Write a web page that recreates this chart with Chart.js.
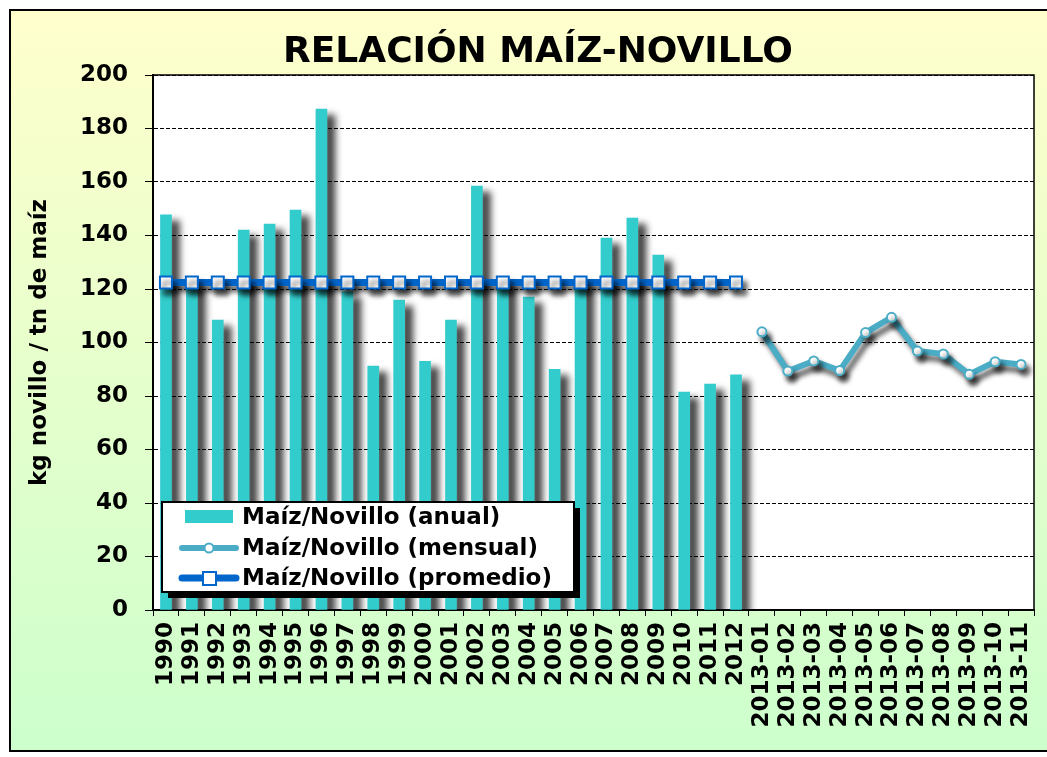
<!DOCTYPE html>
<html>
<head>
<meta charset="utf-8">
<script src="https://cdn.jsdelivr.net/npm/chart.js@4/dist/chart.umd.min.js"></script>
<style>
  html, body { margin: 0; padding: 0; background: #fff; }
  #wrap { width: 1047px; height: 757px; position: relative; }
</style>
</head>
<body>
<div id="wrap"><canvas id="chart" width="1047" height="757"></canvas></div>
<script>
// yearly ratio, monthly 2013 ratio and long-run average
const years = ['1990', '1991', '1992', '1993', '1994', '1995', '1996', '1997', '1998', '1999', '2000',
    '2001', '2002', '2003', '2004', '2005', '2006', '2007', '2008', '2009', '2010', '2011', '2012'];
const months = ['2013-01', '2013-02', '2013-03', '2013-04', '2013-05', '2013-06',
    '2013-07', '2013-08', '2013-09', '2013-10', '2013-11'];
const anual = [147.7, 123, 108.4, 142, 144.3, 149.5, 187.3, 119, 91.2, 115.9, 93,
    108.4, 158.5, 123.5, 117, 90, 123, 139, 146.5, 132.7, 81.5, 84.5, 87.9];
const mensual = [104, 89.3, 93.1, 89.5, 103.7, 109.4, 96.8, 95.7, 88.1, 92.8, 91.8];
const promedio = [122.4, 122.4, 122.4, 122.4, 122.4, 122.4, 122.4, 122.4, 122.4, 122.4, 122.4,
    122.4, 122.4, 122.4, 122.4, 122.4, 122.4, 122.4, 122.4, 122.4, 122.4, 122.4, 122.4];
const yTicks = [0, 20, 40, 60, 80, 100, 120, 140, 160, 180, 200];

const labels = years.concat(months);
const noYears = years.map(() => null);
const noMonths = months.map(() => null);

const CYAN = '#33CCCC';
const AQUA = '#4BACC6';
const BLUE = '#0066CC';
const FONT = 'DejaVu Sans';
const boldFont = { family: FONT, weight: 'bold', size: 23 };

// gradient frame + white plot area behind everything
const framePlugin = {
    id: 'frame',
    beforeDraw(chart) {
        const {ctx, chartArea: a} = chart;
        ctx.save();
        ctx.fillStyle = '#fff';
        ctx.fillRect(0, 0, chart.width, chart.height);
        const g = ctx.createLinearGradient(0, 10, 0, 751);
        g.addColorStop(0, '#FFFFCC');
        g.addColorStop(1, '#CCFFCC');
        ctx.fillStyle = g;
        ctx.fillRect(10, 10, chart.width - 10, 741);
        ctx.strokeStyle = '#000';
        ctx.lineWidth = 2;
        ctx.beginPath();
        ctx.moveTo(chart.width + 2, 10);
        ctx.lineTo(10, 10);
        ctx.lineTo(10, 751);
        ctx.lineTo(chart.width + 2, 751);
        ctx.stroke();
        ctx.fillStyle = '#fff';
        ctx.fillRect(a.left, a.top, a.right - a.left, a.bottom - a.top);

        ctx.fillStyle = '#000';
        ctx.font = 'bold 36px ' + FONT;
        ctx.textAlign = 'center';
        ctx.textBaseline = 'alphabetic';
        ctx.fillText('RELACIÓN MAÍZ-NOVILLO', 538, 62);
        ctx.restore();
    },
    afterDraw(chart) {
        const {ctx, chartArea: a} = chart;
        ctx.save();
        ctx.strokeStyle = '#000';
        ctx.lineWidth = 1.5;
        ctx.beginPath();
        ctx.moveTo(a.left, a.top);
        ctx.lineTo(a.right, a.top);
        ctx.lineTo(a.right, a.bottom);
        ctx.stroke();

        // legend box
        const lx = a.left + 9, ly = a.bottom - 108, lw = 412, lh = 90;
        ctx.fillStyle = '#000';
        ctx.fillRect(lx + 6, ly + 6, lw, lh);
        ctx.fillStyle = '#fff';
        ctx.fillRect(lx, ly, lw, lh);
        ctx.lineWidth = 2;
        ctx.strokeRect(lx, ly, lw, lh);

        const sx = lx + 20, tx = lx + 80;
        const rows = [ly + 15, ly + 46, ly + 76];
        ctx.font = 'bold 23px ' + FONT;
        ctx.textAlign = 'left';
        ctx.textBaseline = 'middle';
        ctx.fillStyle = '#000';
        ctx.fillText('Maíz/Novillo (anual)', tx, rows[0] + 1);
        ctx.fillText('Maíz/Novillo (mensual)', tx, rows[1] + 1);
        ctx.fillText('Maíz/Novillo (promedio)', tx, rows[2] + 1);

        ctx.fillStyle = CYAN;
        ctx.fillRect(sx + 3, rows[0] - 7, 48, 13);

        ctx.lineCap = 'round';
        ctx.strokeStyle = AQUA;
        ctx.lineWidth = 6;
        ctx.beginPath();
        ctx.moveTo(sx, rows[1]);
        ctx.lineTo(sx + 54, rows[1]);
        ctx.stroke();
        ctx.fillStyle = '#fff';
        ctx.lineWidth = 2;
        ctx.beginPath();
        ctx.arc(sx + 27, rows[1], 4.5, 0, Math.PI * 2);
        ctx.fill();
        ctx.stroke();

        ctx.strokeStyle = BLUE;
        ctx.lineWidth = 7;
        ctx.beginPath();
        ctx.moveTo(sx, rows[2]);
        ctx.lineTo(sx + 54, rows[2]);
        ctx.stroke();
        ctx.lineWidth = 2;
        ctx.fillRect(sx + 21, rows[2] - 6, 13, 13);
        ctx.strokeRect(sx + 21, rows[2] - 6, 13, 13);
        ctx.restore();
    }
};

// soft drop shadow on every dataset
const shadowPlugin = {
    id: 'shadow',
    beforeDatasetDraw(chart, args) {
        const ctx = chart.ctx;
        ctx.save();
        const bar = args.meta.type === 'bar';
        ctx.shadowColor = bar ? 'rgba(0,0,0,0.75)' : 'rgba(0,0,0,0.6)';
        ctx.shadowBlur = bar ? 7 : 5;
        ctx.shadowOffsetX = bar ? 8 : 4;
        ctx.shadowOffsetY = 6;
    },
    afterDatasetDraw(chart) {
        chart.ctx.restore();
    }
};

new Chart(document.getElementById('chart'), {
    type: 'bar',
    data: {
        labels: labels,
        datasets: [
            {
                type: 'line',
                label: 'Maíz/Novillo (promedio)',
                data: promedio.concat(noMonths),
                borderColor: BLUE,
                borderWidth: 7,
                pointStyle: 'rect',
                pointRadius: 8.5,
                pointBackgroundColor: '#fff',
                pointBorderColor: BLUE,
                pointBorderWidth: 2,
                tension: 0,
                order: 1
            },
            {
                type: 'line',
                label: 'Maíz/Novillo (mensual)',
                data: noYears.concat(mensual),
                borderColor: AQUA,
                borderWidth: 6,
                borderJoinStyle: 'round',
                pointStyle: 'circle',
                pointRadius: 4.5,
                pointBackgroundColor: '#fff',
                pointBorderColor: AQUA,
                pointBorderWidth: 2,
                tension: 0,
                order: 2
            },
            {
                label: 'Maíz/Novillo (anual)',
                data: anual.concat(noMonths),
                backgroundColor: CYAN,
                borderWidth: 0,
                barThickness: 11,
                order: 3
            }
        ]
    },
    options: {
        responsive: false,
        devicePixelRatio: 1,
        animation: false,
        layout: { padding: { top: 75, right: 13, left: 0, bottom: 0 } },
        plugins: {
            legend: { display: false },
            tooltip: { enabled: false }
        },
        scales: {
            x: {
                offset: true,
                grid: {
                    display: true,
                    drawOnChartArea: false,
                    offset: true,
                    tickLength: 6,
                    color: '#000',
                    tickColor: '#000'
                },
                border: { display: true, color: '#000', width: 2 },
                ticks: {
                    autoSkip: false,
                    maxRotation: 90,
                    minRotation: 90,
                    font: boldFont,
                    color: '#000',
                    padding: 6
                },
                afterFit: s => {
                    s.height = 147;
                    s.paddingLeft = 0;
                    s.paddingRight = 0;
                }
            },
            y: {
                min: 0,
                max: 200,
                afterBuildTicks: s => { s.ticks = yTicks.map(v => ({ value: v })); },
                ticks: { font: boldFont, color: '#000', padding: 17 },
                grid: {
                    color: '#000',
                    lineWidth: 1,
                    tickLength: 8,
                    tickColor: '#000',
                    tickWidth: 1,
                    tickBorderDash: []
                },
                border: { display: true, color: '#000', width: 2, dash: [4, 2] },
                title: {
                    display: true,
                    text: 'kg novillo / tn de maíz',
                    font: boldFont,
                    color: '#000',
                    padding: { top: 26, bottom: 0 }
                },
                afterFit: s => { s.width = 153; }
            }
        }
    },
    plugins: [framePlugin, shadowPlugin]
});
</script>
</body>
</html>
